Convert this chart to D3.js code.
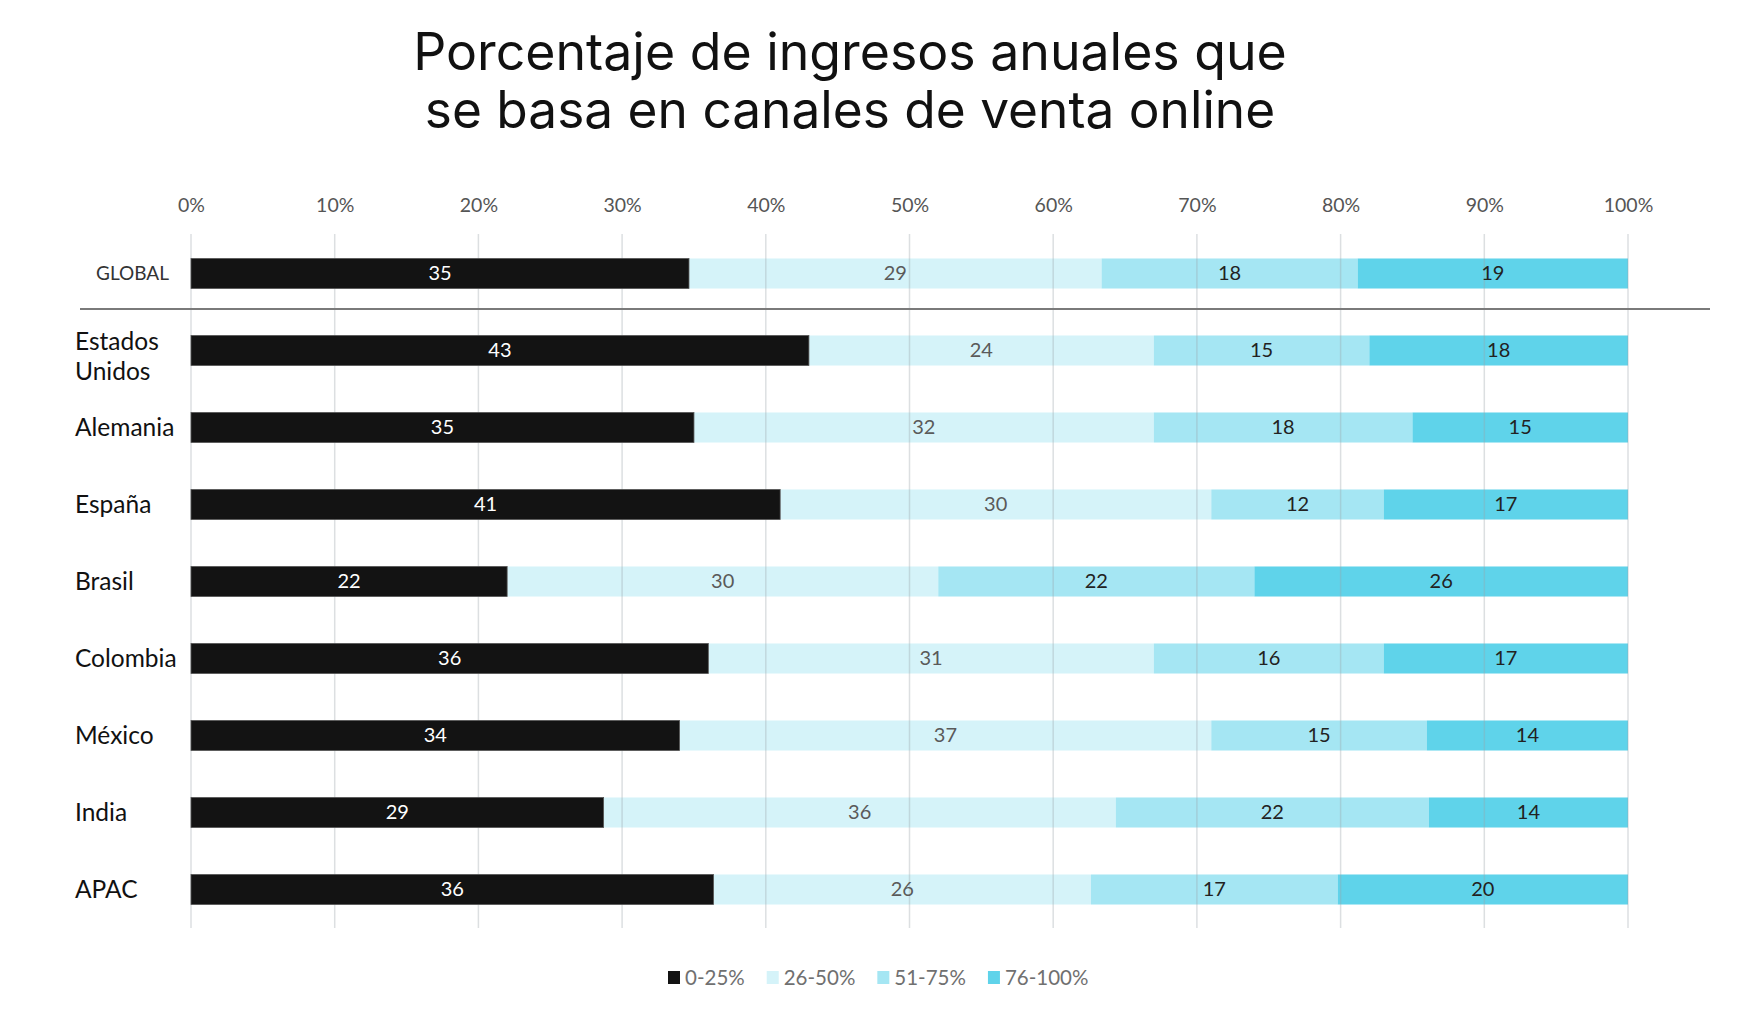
<!DOCTYPE html>
<html>
<head>
<meta charset="utf-8">
<script src="https://cdn.jsdelivr.net/npm/d3@7"></script>
<style>
  html, body { margin: 0; padding: 0; background: #fff; }
  svg { display: block; }
</style>
</head>
<body>
<svg id="chart" width="1750" height="1016"></svg>
<script>
// ---- data ----
const categories = ["GLOBAL", "Estados Unidos", "Alemania", "España", "Brasil", "Colombia", "México", "India", "APAC"];
const seriesNames = ["0-25%", "26-50%", "51-75%", "76-100%"];
const s0_25   = [35, 43, 35, 41, 22, 36, 34, 29, 36];
const s26_50  = [29, 24, 32, 30, 30, 31, 37, 36, 26];
const s51_75  = [18, 15, 18, 12, 22, 16, 15, 22, 17];
const s76_100 = [19, 18, 15, 17, 26, 17, 14, 14, 20];
const tickValues = [0, 10, 20, 30, 40, 50, 60, 70, 80, 90, 100];
const titleLines = ["Porcentaje de ingresos anuales que", "se basa en canales de venta online"];

// ---- styles ----
const colors = ["#131313", "#d5f3f9", "#a5e6f3", "#5fd3ea"];
const labelColors = ["#ffffff", "#5a5a5a", "#222222", "#222222"];
const FONT = "Lato, 'Open Sans', sans-serif";

const svg = d3.select("#chart");

const rows = categories.map((c, i) => {
  const vals = [s0_25[i], s26_50[i], s51_75[i], s76_100[i]];
  const total = d3.sum(vals);
  let acc = 0;
  const segs = vals.map((v, k) => {
    const s = { k, v, x0: acc / total * 100, x1: (acc + v) / total * 100 };
    acc += v;
    return s;
  });
  return { cat: c, segs };
});

const x = d3.scaleLinear().domain([0, 100]).range([191, 1628]);
const y = d3.scaleBand().domain(categories).range([235, 928]).paddingInner(0.61).paddingOuter(0.305);
const bw = y.bandwidth();

// ---- title ----
const title = svg.append("g");
titleLines.forEach((t, i) => {
  title.append("text")
    .attr("x", 850).attr("y", 70 + i * 58)
    .attr("text-anchor", "middle")
    .attr("font-family", "Inter, 'Noto Sans', sans-serif")
    .attr("font-size", 50)
    .attr("fill", "#111")
    .text(t);
});
title.selectAll("text").each(function(d, i) {
  const target = i === 0 ? 874 : 850;
  const len = this.getComputedTextLength();
  d3.select(this).attr("font-size", (50 * target / len).toFixed(1));
});

// ---- top axis labels ----
const axis = d3.axisTop(x).tickValues(tickValues).tickFormat(d => d + "%").tickSize(0).tickPadding(0);
const axG = svg.append("g").attr("transform", "translate(0,212)").call(axis);
axG.select(".domain").remove();
axG.selectAll("text").attr("font-family", FONT).attr("font-size", 19.5).attr("fill", "#555");

// ---- light segments ----
const lightG = svg.append("g").selectAll("g").data(rows).join("g")
  .attr("transform", d => `translate(0,${y(d.cat)})`);
lightG.selectAll("rect").data(d => d.segs.filter(s => s.k > 0)).join("rect")
  .attr("x", s => x(s.x0)).attr("width", s => x(s.x1) - x(s.x0))
  .attr("y", 0).attr("height", bw)
  .attr("fill", s => colors[s.k]);

// ---- gridlines (over light bars) ----
svg.append("g").selectAll("line").data(tickValues).join("line")
  .attr("x1", d => x(d)).attr("x2", d => x(d))
  .attr("y1", 234).attr("y2", 928)
  .attr("stroke", "#9aa4a8").attr("stroke-opacity", 0.35).attr("stroke-width", 1.5);

// ---- black segments and labels (over grid) ----
const topG = svg.append("g").selectAll("g").data(rows).join("g")
  .attr("transform", d => `translate(0,${y(d.cat)})`);
topG.selectAll("rect").data(d => d.segs.filter(s => s.k === 0)).join("rect")
  .attr("x", s => x(s.x0)).attr("width", s => x(s.x1) - x(s.x0))
  .attr("y", 0).attr("height", bw)
  .attr("fill", colors[0]).attr("stroke", "#555").attr("stroke-width", 0.8);
topG.selectAll("text").data(d => d.segs).join("text")
  .attr("x", s => (x(s.x0) + x(s.x1)) / 2)
  .attr("y", bw / 2 + 7)
  .attr("text-anchor", "middle")
  .attr("font-family", FONT).attr("font-size", 20)
  .attr("fill", s => labelColors[s.k])
  .text(s => s.v);

// ---- separator ----
const sepY = y("GLOBAL") + bw / 2 + y.step() * 0.46;
svg.append("line").attr("x1", 80).attr("x2", 1710).attr("y1", sepY).attr("y2", sepY)
  .attr("stroke", "#7a7a7a").attr("stroke-width", 2);

// ---- category labels ----
const catG = svg.append("g");
categories.forEach(c => {
  const cy = y(c) + bw / 2;
  if (c === "GLOBAL") {
    catG.append("text").attr("x", 169).attr("y", cy + 6.5)
      .attr("text-anchor", "end").attr("font-family", FONT).attr("font-size", 19)
      .attr("fill", "#333").text(c);
  } else if (c === "Estados Unidos") {
    c.split(" ").forEach((p, i) => {
      catG.append("text").attr("x", 75).attr("y", cy - 1 + i * 30)
        .attr("font-family", FONT).attr("font-size", 24.5)
        .attr("fill", "#111").text(p);
    });
  } else {
    catG.append("text").attr("x", 75).attr("y", cy + 8.5)
      .attr("font-family", FONT).attr("font-size", 24.5)
      .attr("fill", "#111").text(c);
  }
});

// ---- legend ----
const leg = svg.append("g").attr("transform", "translate(668,978)");
let lx = 0;
seriesNames.forEach((n, i) => {
  leg.append("rect").attr("x", lx).attr("y", -7).attr("width", 12).attr("height", 13)
    .attr("fill", colors[i]);
  const t = leg.append("text").attr("x", lx + 17).attr("y", 7)
    .attr("font-family", FONT).attr("font-size", 20.5).attr("fill", "#707070").text(n);
  lx += 17 + t.node().getComputedTextLength() + 22;
});
</script>
</body>
</html>
